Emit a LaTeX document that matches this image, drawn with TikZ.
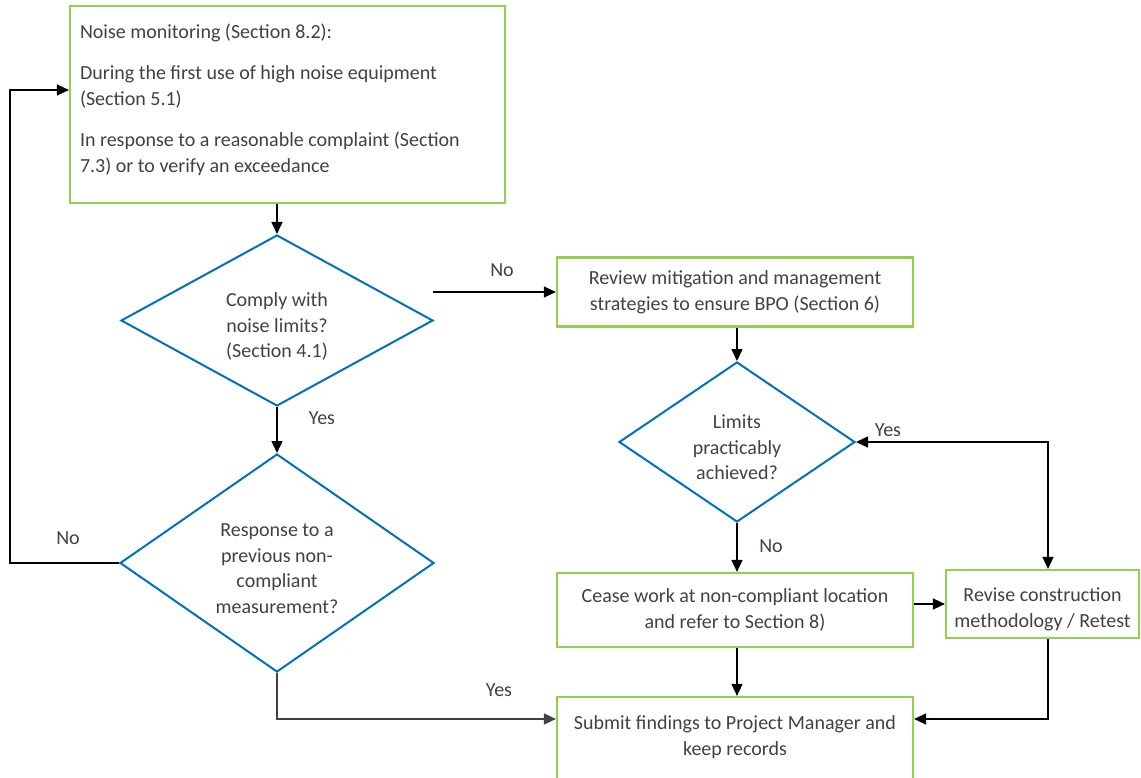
\documentclass[tikz,border=0pt]{standalone}
\usepackage{fontspec}
\setmainfont{Carlito}
\usetikzlibrary{shapes.geometric,arrows.meta}
\definecolor{boxgreen}{HTML}{92D050}
\definecolor{diablue}{HTML}{0070C0}
\definecolor{txtgrey}{HTML}{40404A}
\begin{document}
\begin{tikzpicture}[x=1pt,y=-1pt]
        \tikzstyle{block} = [rectangle, text=txtgrey, align=center, draw=boxgreen, line width=2.2pt, font=\fontsize{20}{26}\selectfont, inner sep=0pt]
        \tikzstyle{decision} = [diamond, text=txtgrey, align=center, draw=diablue, line width=2pt, font=\fontsize{20}{25.5}\selectfont, inner sep=0pt]
        \tikzstyle{line} = [-{Triangle[length=12pt,width=11pt]},draw=black,line width=1.5pt]
        \tikzstyle{lbl} = [text=txtgrey, font=\fontsize{20}{24}\selectfont]
        \useasboundingbox (0,0) rectangle (1141,778);
        \node[block,minimum width=435pt,minimum height=197pt,text width=415pt,align=flush left] (monitor) at (287.5,104.5) {Noise monitoring (Section 8.2):\\[15pt]During the first use of high noise equipment\\(Section 5.1)\\[15pt]In response to a reasonable complaint (Section\\7.3) or to verify an exceedance\par\vspace{10pt}};
        \node[decision,minimum width=312pt,minimum height=171pt] (comply) at (277,320.5) {Comply with\\noise limits?\\(Section 4.1)\\[-35pt]};
        \node[block,minimum width=356pt,minimum height=69pt] (review) at (735,292) {Review mitigation and management\\strategies to ensure BPO (Section 6)};
        \node[decision,minimum width=236pt,minimum height=160pt] (limits) at (737,442) {Limits\\practicably\\achieved?\\[-36pt]};
        \node[decision,minimum width=314pt,minimum height=218pt] (previous) at (277,563) {Response to a\\previous non-\\compliant\\measurement?\\[-37pt]};
        \node[block,minimum width=356pt,minimum height=74pt] (cease) at (735,610) {Cease work at non-compliant location\\and refer to Section 8)};
        \node[block,minimum width=193pt,minimum height=68pt] (revise) at (1042.5,604) {Revise construction\\methodology / Retest\\[-34pt]};
        \node[block,minimum width=356pt,minimum height=100pt] (submit) at (735,747) {Submit findings to Project Manager and\\keep records\\[-4pt]};
        \coordinate (nostart) at (433,292);
        \node[lbl] (no1) at (502,270) {No};
        \node[lbl] (yes1) at (322,418) {Yes};
        \node[lbl] (no2) at (68,538) {No};
        \node[lbl] (yes2) at (499,690) {Yes};
        \node[lbl] (yes3) at (888,430) {Yes};
        \node[lbl] (no3) at (771,546) {No};
        \draw[line] (monitor.south -| comply.north) to (comply.north);
        \draw[line] (comply.south) to (previous.north);
        \draw[line] (nostart) to (review.west);
        \draw[line] (review.south -| limits.north) to (limits.north);
        \draw[line] (limits.south) to (cease.north -| limits.south);
        \draw[line] (cease.east |- revise.west) to (revise.west);
        \draw[line,{Triangle[length=12pt,width=11pt]}-{Triangle[length=12pt,width=11pt]}] (limits.east) -| ([xshift=5.5pt]revise.north);
        \draw[line] (cease.south -| limits.south) to (submit.north -| limits.south);
        \draw[line] ([xshift=5.5pt]revise.south) |- ([yshift=28pt]submit.east);
        \draw[line,draw=txtgrey] (previous.south) |- ([yshift=28pt]submit.west);
        \draw[line] (previous.west) -- ++(-109,0) |- ([yshift=14.5pt]monitor.west);
    \end{tikzpicture}
\end{document}
